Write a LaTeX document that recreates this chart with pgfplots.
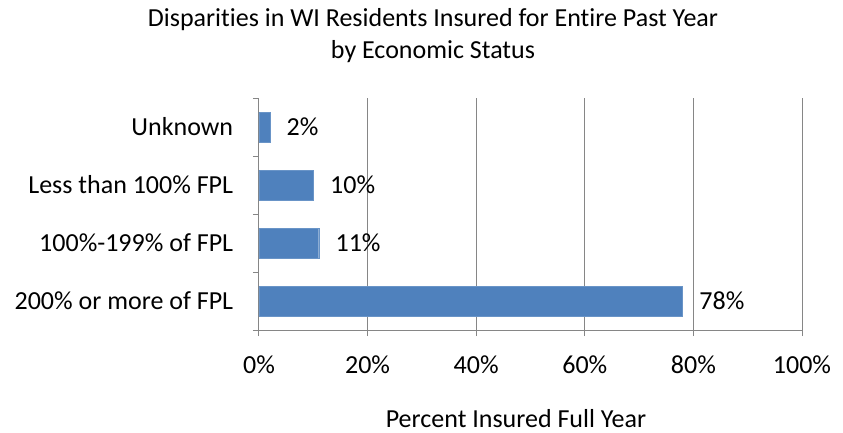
\documentclass[border=0pt]{standalone}
\usepackage{fontspec}
\setmainfont[Ligatures=CommonOff]{Carlito}
\usepackage{pgfplots}
\pgfplotsset{compat=1.18}
\usetikzlibrary{calc}
\definecolor{barblue}{HTML}{4F81BD}
\definecolor{gridgray}{HTML}{868686}
\begin{document}
\fontsize{26}{31}\selectfont
\begin{tikzpicture}[x=1pt,y=1pt]
\begin{axis}[
  at={(0pt,0pt)}, anchor=origin,
  scale only axis,
  width=543pt, height=232pt,
  xbar, bar width=30pt,
  xmin=0, xmax=100,
  ymin=-0.5, ymax=3.5,
  axis x line*=bottom, axis y line*=left,
  axis line style={gridgray, line width=1pt},
  xtick={0,20,40,60,80,100},
  xticklabel={\pgfmathprintnumber[assume math mode=true]{\tick}\%},
  xmajorgrids, major grid style={gridgray, line width=1pt},
  tick align=outside,
  major x tick style={gridgray, line width=1pt},
  major tick length=6pt,
  ytick={0,1,2,3},
  yticklabels={200\% or more of FPL,100\%-199\% of FPL,Less than 100\% FPL,Unknown},
  major y tick style={draw=none},
  minor ytick={-0.5,0.5,1.5,2.5,3.5},
  minor y tick style={gridgray, line width=1pt},
  minor tick length=6pt,
  y tick label style={xshift=-11pt},
  x tick label style={yshift=-11pt},
  tick label style={font=\fontsize{26}{31}\selectfont},
  nodes near coords={\pgfmathprintnumber[assume math mode=true]{\pgfplotspointmeta}\%},
  every node near coord/.append style={anchor=west, xshift=8pt, font=\fontsize{26}{31}\selectfont},
  clip=false,
]
\addplot[fill=barblue, draw=barblue!85!white] coordinates {(78,0) (11,1) (10,2) (2,3)};
\coordinate (O) at (rel axis cs:0,0);
\end{axis}
\node[anchor=base, font=\fontsize{26}{31}\selectfont] at ($(O)+(174pt,303pt)$) {Disparities in WI Residents Insured for Entire Past Year};
\node[anchor=base, font=\fontsize{26}{31}\selectfont] at ($(O)+(174pt,272pt)$) {by Economic Status};
\node[anchor=base, font=\fontsize{26}{31}\selectfont] at ($(O)+(257pt,-97pt)$) {Percent Insured Full Year};
\pgfresetboundingbox
\useasboundingbox ($(O)+(-259pt,-102pt)$) rectangle ($(O)+(584pt,330pt)$);
\end{tikzpicture}
\end{document}
